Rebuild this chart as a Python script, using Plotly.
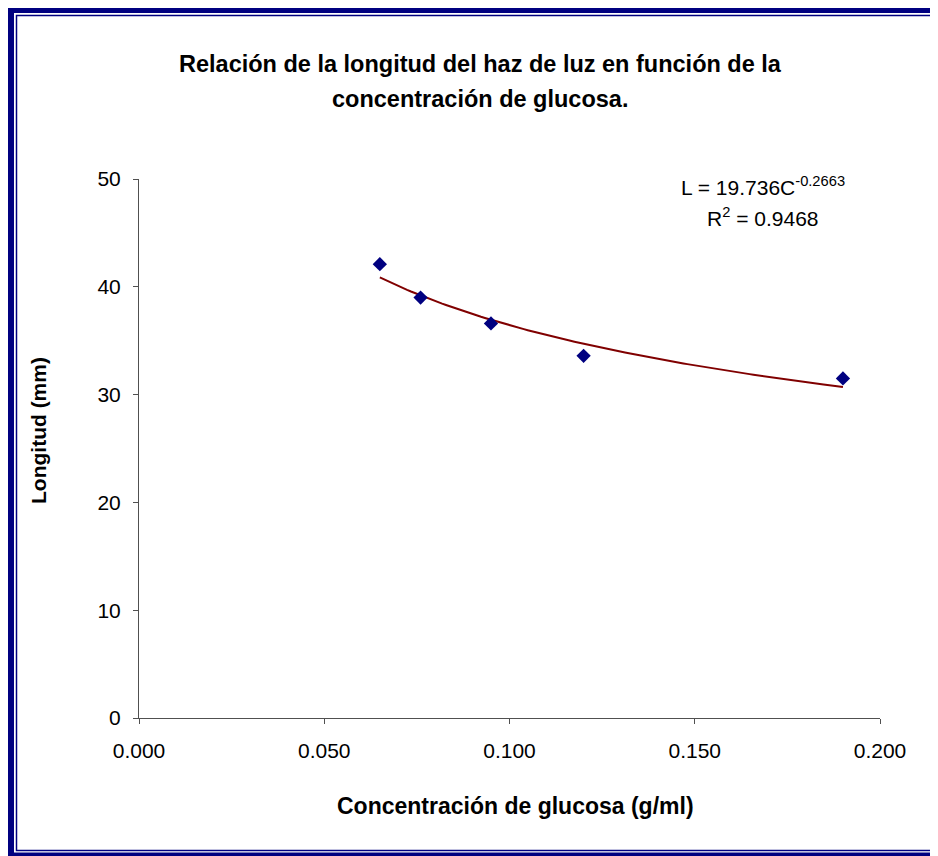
import numpy as np
import plotly.graph_objects as go

# ---- data ----
concentracion = [0.065, 0.076, 0.095, 0.120, 0.190]   # g/ml
longitud = [42.1, 39.0, 36.6, 33.6, 31.5]              # mm
coef_a = 19.736
coef_b = -0.2663
r2 = 0.9468
x_ticks = [0.0, 0.05, 0.10, 0.15, 0.20]
x_tick_text = ["0.000", "0.050", "0.100", "0.150", "0.200"]
y_ticks = [0, 10, 20, 30, 40, 50]

# page is drawn with an 8px body margin, so the figure is 8px smaller
OFF = 8
W, H = 938 - OFF, 856 - OFF
PLOT_L, PLOT_R, PLOT_T, PLOT_B = 139, 880, 179, 718   # page pixel coords
ML, MR = PLOT_L - OFF, 938 - PLOT_R
MT, MB = PLOT_T - OFF, 856 - PLOT_B
PW, PH = PLOT_R - PLOT_L, PLOT_B - PLOT_T

def px(xp):
    return (xp - PLOT_L) / PW

def py(yp):
    return (PLOT_B - yp) / PH

FONT = "Arial, Liberation Sans, sans-serif"
NAVY = "#000080"

c_fit = np.linspace(min(concentracion), max(concentracion), 120)
l_fit = coef_a * c_fit ** coef_b

fig = go.Figure()
fig.add_trace(go.Scatter(x=c_fit, y=l_fit, mode="lines",
                         line=dict(color="#800000", width=2),
                         showlegend=False, hoverinfo="skip"))
fig.add_trace(go.Scatter(x=concentracion, y=longitud, mode="markers",
                         marker=dict(symbol="diamond", size=11, color=NAVY,
                                     line=dict(width=0)),
                         showlegend=False))

axis_common = dict(showgrid=False, zeroline=False, showline=True,
                   linecolor="#505050", linewidth=1, ticks="outside",
                   ticklen=5, tickcolor="#505050", tickwidth=1,
                   tickfont=dict(family=FONT, size=21, color="black"),
                   mirror=False)

fig.update_layout(
    width=W, height=H,
    margin=dict(l=ML, r=MR, t=MT, b=MB),
    paper_bgcolor="white", plot_bgcolor="white",
    xaxis=dict(range=[0, 0.2], tickvals=x_ticks, ticktext=x_tick_text,
               ticklabelstandoff=9, **axis_common),
    yaxis=dict(range=[0, 50], tickvals=y_ticks, ticklabelstandoff=8,
               **axis_common),
)

ann = []
ann.append(dict(text="<b>Relación de la longitud del haz de luz en función de la</b>",
                x=px(480), y=py(64), xref="paper", yref="paper",
                xanchor="center", yanchor="middle", showarrow=False,
                font=dict(family=FONT, size=23.5, color="black")))
ann.append(dict(text="<b>concentración de glucosa.</b>",
                x=px(480), y=py(99), xref="paper", yref="paper",
                xanchor="center", yanchor="middle", showarrow=False,
                font=dict(family=FONT, size=23.5, color="black")))
ann.append(dict(text="<b>Concentración de glucosa (g/ml)</b>",
                x=px(515), y=py(806), xref="paper", yref="paper",
                xanchor="center", yanchor="middle", showarrow=False,
                font=dict(family=FONT, size=23, color="black")))
ann.append(dict(text="<b>Longitud (mm)</b>", textangle=-90,
                x=px(38), y=py(431), xref="paper", yref="paper",
                xanchor="center", yanchor="middle", showarrow=False,
                font=dict(family=FONT, size=21, color="black")))
ann.append(dict(text=f"L = {coef_a}C<sup>{coef_b}</sup>",
                x=px(763), y=py(186), xref="paper", yref="paper",
                xanchor="center", yanchor="middle", showarrow=False,
                font=dict(family=FONT, size=21, color="black")))
ann.append(dict(text=f"R<sup>2</sup> = {r2}",
                x=px(763), y=py(217), xref="paper", yref="paper",
                xanchor="center", yanchor="middle", showarrow=False,
                font=dict(family=FONT, size=21, color="black")))
fig.update_layout(annotations=ann)

shapes = []
# outer thick border
shapes.append(dict(type="rect", xref="paper", yref="paper",
                   x0=px(10.5), x1=px(960), y0=py(9.5), y1=py(856),
                   line=dict(color=NAVY, width=7), fillcolor="rgba(0,0,0,0)"))
# inner thin border
shapes.append(dict(type="rect", xref="paper", yref="paper",
                   x0=px(16.5), x1=px(960), y0=py(15.5), y1=py(850.5),
                   line=dict(color=NAVY, width=1.5), fillcolor="rgba(0,0,0,0)"))
fig.update_layout(shapes=shapes)

fig.write_html("out.html")
